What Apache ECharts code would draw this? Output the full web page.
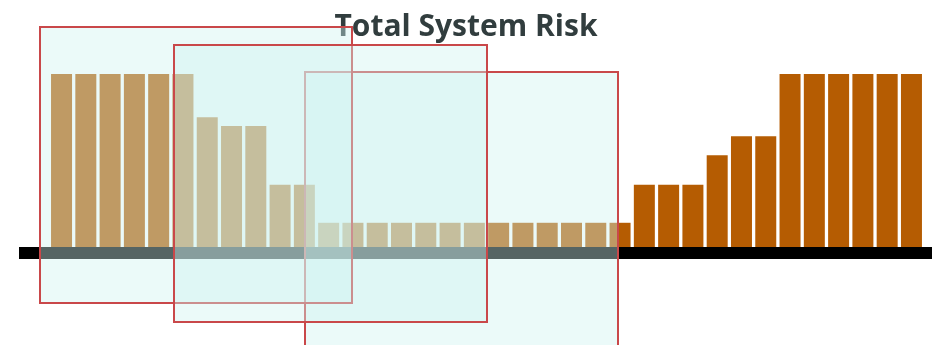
<!DOCTYPE html>
<html>
<head>
<meta charset="utf-8">
<script src="https://cdn.jsdelivr.net/npm/echarts@6/dist/echarts.min.js"></script>
<style>
  html, body { margin: 0; padding: 0; background: #ffffff; }
  #chart { width: 932px; height: 345px; }
</style>
</head>
<body>
<div id="chart"></div>
<script>
// Risk level for each step along the system timeline
const steps = Array.from({ length: 36 }, (_, i) => 'S' + (i + 1));
const riskValues = [
  100, 100, 100, 100, 100, 100,
  75, 70, 70, 36, 36,
  14, 14, 14, 14, 14, 14, 14, 14, 14, 14, 14, 14, 14,
  36, 36, 36, 53, 64, 64,
  100, 100, 100, 100, 100, 100
];

// Review windows drawn as translucent frames over the bars: [left, top, right, bottom] in px
const windows = [
  { name: 'windowC', box: [305, 72, 618, 400], z: 10 },
  { name: 'windowA', box: [40, 27, 352, 303], z: 11 },
  { name: 'windowB', box: [174, 45, 487, 322], z: 12 }
];

const chart = echarts.init(document.getElementById('chart'), null, { renderer: 'canvas' });

chart.setOption({
  animation: false,
  backgroundColor: '#ffffff',
  title: {
    text: 'Total System Risk',
    left: 'center',
    top: 7,
    z: 1,
    textStyle: {
      fontFamily: 'Open Sans',
      fontWeight: 'bold',
      fontSize: 30,
      color: '#313d3e'
    }
  },
  grid: [
    { left: 49.4, right: 8.4, top: 74, bottom: 98 },
    { left: 19, right: 0, top: 74, bottom: 92 }
  ],
  xAxis: [
    {
      type: 'category',
      gridIndex: 0,
      data: steps,
      axisLine: { show: false },
      axisTick: { show: false },
      axisLabel: { show: false }
    },
    {
      type: 'value',
      gridIndex: 1,
      min: 0,
      max: 1,
      z: 5,
      axisLine: { show: true, onZero: false, lineStyle: { color: '#000000', width: 12, cap: 'butt' } },
      axisTick: { show: false },
      axisLabel: { show: false },
      splitLine: { show: false }
    }
  ],
  yAxis: [
    {
      type: 'value',
      gridIndex: 0,
      min: 0,
      max: 100,
      show: false
    },
    {
      type: 'value',
      gridIndex: 1,
      min: 0,
      max: 1,
      show: false
    }
  ],
  series: [
    {
      type: 'bar',
      xAxisIndex: 0,
      yAxisIndex: 0,
      data: riskValues,
      barWidth: 21,
      z: 2,
      itemStyle: { color: '#b55c02' }
    }
  ],
  graphic: windows.map(w => ({
    type: 'rect',
    id: w.name,
    z: w.z,
    shape: {
      x: w.box[0],
      y: w.box[1],
      width: w.box[2] - w.box[0],
      height: w.box[3] - w.box[1]
    },
    style: {
      fill: 'rgba(207, 244, 241, 0.41)',
      stroke: '#c9484a',
      lineWidth: 2
    }
  }))
});
</script>
</body>
</html>
